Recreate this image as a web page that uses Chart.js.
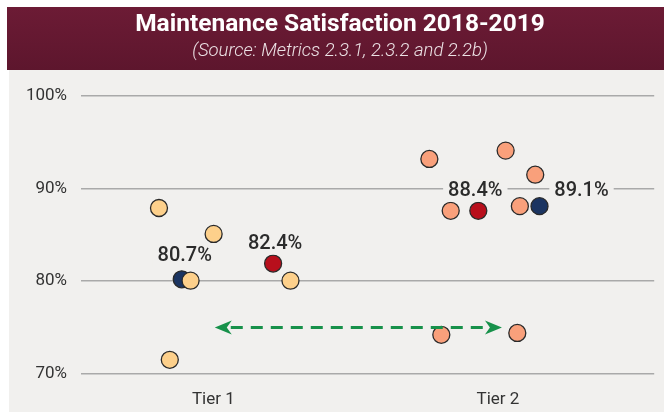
<!DOCTYPE html>
<html>
<head>
<meta charset="utf-8">
<script src="https://cdn.jsdelivr.net/npm/chart.js@4"></script>
<style>
  html, body { margin: 0; padding: 0; background: #ffffff; }
  #wrap { width: 664px; height: 412px; }
</style>
</head>
<body>
<div id="wrap"><canvas id="scatter_Maint"></canvas></div>
<script>

const titleText = "Maintenance Satisfaction 2018-2019";
const subtitleText = "(Source: Metrics 2.3.1, 2.3.2 and 2.2b)";

const categories = ["Tier 1", "Tier 2"];
const yTicks = [70, 80, 90, 100];

// individual scores, x = tier position (1 or 2) plus jitter
const tier1X = [0.809, 1.001, 0.920, 1.271, 0.847];
const tier1Y = [87.9, 85.1, 80.05, 80.05, 71.5];
const tier2X = [1.759, 2.027, 2.131, 1.834, 2.077, 1.801, 2.068];
const tier2Y = [93.2, 94.1, 91.5, 87.6, 88.1, 74.2, 74.4];

// highlighted points
const redX = [1.210, 1.931];
const redY = [81.9, 87.6];
const redLabels = ["82.4%", "88.4%"];
const navyX = [0.889, 2.146];
const navyY = [80.2, 88.1];
const navyLabels = ["80.7%", "89.1%"];

// dashed arrow between tiers
const arrowX = [1.005, 2.014];
const arrowY = 75;

const toPoints = (xs, ys) => xs.map((x, i) => ({ x: x, y: ys[i] }));

const panelColor = "#f1f0ee";

const backdrop = {
    id: "backdrop",
    beforeDraw(chart) {
        const c = chart.ctx;
        c.save();
        c.fillStyle = panelColor;
        c.fillRect(9, 70, chart.width - 9, chart.height - 70);
        const g = c.createLinearGradient(0, 7, 0, 70);
        g.addColorStop(0, "#6c1b35");
        g.addColorStop(1, "#5d162d");
        c.fillStyle = g;
        c.fillRect(7, 7, chart.width - 7, 63);
        c.fillStyle = "#ffffff";
        c.textAlign = "center";
        c.textBaseline = "middle";
        c.font = "bold 24.5px Roboto";
        c.fillText(titleText, 340, 25);
        c.fillStyle = "#ece2e5";
        c.font = "italic 300 18.5px Roboto";
        c.fillText(subtitleText, 340, 51);
        c.restore();
    }
};

const annotations = {
    id: "annotations",
    afterDatasetsDraw(chart) {
        const c = chart.ctx;
        const xs = chart.scales.x, ys = chart.scales.y;
        c.save();
        // arrow
        const x0 = xs.getPixelForValue(arrowX[0]);
        const x1 = xs.getPixelForValue(arrowX[1]);
        const y = ys.getPixelForValue(arrowY);
        const green = "#17914a";
        c.strokeStyle = green;
        c.lineWidth = 3;
        c.setLineDash([12, 8]);
        c.beginPath();
        c.moveTo(x0 + 16, y);
        c.lineTo(x1 - 16, y);
        c.stroke();
        c.setLineDash([]);
        c.fillStyle = green;
        [[x0, 1], [x1, -1]].forEach(([tx, d]) => {
            c.beginPath();
            c.moveTo(tx, y);
            c.lineTo(tx + d * 17, y - 7);
            c.lineTo(tx + d * 12, y);
            c.lineTo(tx + d * 17, y + 7);
            c.closePath();
            c.fill();
        });
        // value labels
        c.font = "500 20px Roboto";
        c.textAlign = "center";
        c.textBaseline = "middle";
        const put = (text, px, py) => {
            const w = c.measureText(text).width;
            c.fillStyle = panelColor;
            c.fillRect(px - w / 2 - 5, py - 11, w + 10, 22);
            c.fillStyle = "#2b2b2b";
            c.fillText(text, px, py);
        };
        const off = { red: [[2, -20], [-3, -20]], navy: [[3, -23], [42, -15]] };
        redLabels.forEach((t, i) => put(t, xs.getPixelForValue(redX[i]) + off.red[i][0], ys.getPixelForValue(redY[i]) + off.red[i][1]));
        navyLabels.forEach((t, i) => put(t, xs.getPixelForValue(navyX[i]) + off.navy[i][0], ys.getPixelForValue(navyY[i]) + off.navy[i][1]));
        c.restore();
    }
};

const pointStyle = (bg) => ({
    backgroundColor: bg,
    borderColor: "#2a2a2a",
    borderWidth: 1.3,
    pointRadius: 8.5,
    pointHoverRadius: 8.5
});

const config_Maint = {
    type: "scatter",
    data: {
        datasets: [
            Object.assign({ label: "Tier 1", data: toPoints(tier1X, tier1Y) }, pointStyle("#fdd08b")),
            Object.assign({ label: "Tier 2", data: toPoints(tier2X, tier2Y) }, pointStyle("#f9a07b")),
            Object.assign({ label: "red", data: toPoints(redX, redY) }, pointStyle("#b80f1c")),
            Object.assign({ label: "navy", data: toPoints(navyX, navyY) }, pointStyle("#1b3461"))
        ]
    },
    options: {
        responsive: false,
        animation: false,
        events: [],
        layout: { padding: { top: 96, left: 9, right: 8, bottom: 0 } },
        plugins: {
            legend: { display: false },
            title: { display: false },
            tooltip: { enabled: false }
        },
        scales: {
            x: {
                type: "linear",
                min: 0.535,
                max: 2.549,
                grid: { display: false },
                border: { display: false },
                afterBuildTicks: (axis) => { axis.ticks = categories.map((c, i) => ({ value: i + 1 })); },
                afterFit: (axis) => { axis.height = 38.3; },
                ticks: {
                    callback: (v) => categories[Math.round(v) - 1],
                    color: "#333333",
                    font: { family: "Roboto", size: 17 },
                    padding: 8,
                    maxRotation: 0
                }
            },
            y: {
                min: 70,
                max: 100,
                afterBuildTicks: (axis) => { axis.ticks = yTicks.map(v => ({ value: v })); },
                afterFit: (axis) => { axis.width = 72; },
                grid: { color: "#a9a9a9", lineWidth: 1.5, drawTicks: false },
                border: { display: false },
                ticks: {
                    callback: (v) => v + "%",
                    color: "#333333",
                    font: { family: "Roboto", size: 17 },
                    padding: 14
                }
            }
        }
    },
    plugins: [backdrop, annotations]
};

const canvas = document.getElementById("scatter_Maint");
canvas.width = 664;
canvas.height = 412;
const myChart_Maint = new Chart(canvas.getContext("2d"), config_Maint);
</script>
</body>
</html>
